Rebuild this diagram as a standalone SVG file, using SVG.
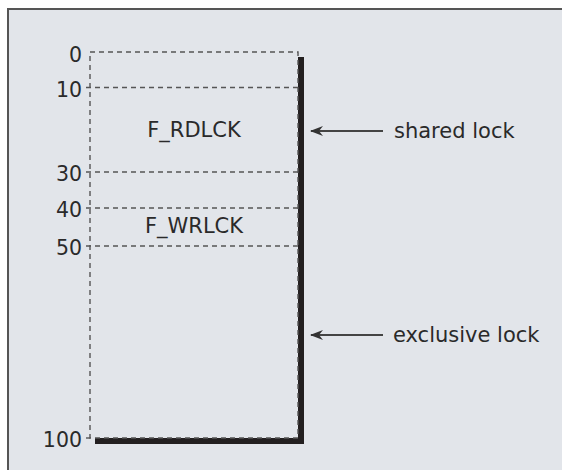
<svg xmlns="http://www.w3.org/2000/svg" width="562" height="470" viewBox="0 0 562 470">
<defs>
<style>
text{font-family:"DejaVu Sans","Liberation Sans",sans-serif;fill:#2a2a2a}
.num{font-size:20.5px;text-anchor:end}
.lbl{font-size:21px}
.mid{text-anchor:middle}
.dash{stroke:#555;stroke-width:1.4;stroke-dasharray:5 4;fill:none}
.arr{stroke:#444;stroke-width:2;fill:none}
</style>
<marker id="ah" viewBox="0 0 13 10" refX="12" refY="5" markerWidth="13" markerHeight="10" markerUnits="userSpaceOnUse" orient="auto">
<path d="M13,5 L0,0 L4,5 L0,10 Z" fill="#333"/>
</marker>
</defs>
<rect x="0" y="0" width="562" height="470" fill="#fff"/>
<rect x="8" y="9" width="570" height="480" fill="#e2e5ea" stroke="#555" stroke-width="2"/>
<g id="region">
<path d="M298,57 H304 V444 H95 V438 H298 Z" fill="#231f20"/>
<rect x="90" y="52" width="208" height="386" fill="#fff" class="dash"/>
<line class="dash" x1="86" y1="87.5" x2="298" y2="87.5"/>
<line class="dash" x1="86" y1="172" x2="298" y2="172"/>
<line class="dash" x1="86" y1="208" x2="298" y2="208"/>
<line class="dash" x1="86" y1="246" x2="298" y2="246"/>
<line class="dash" x1="86" y1="438" x2="90" y2="438"/>
<text class="lbl mid" x="194" y="137">F_RDLCK</text>
<text class="lbl mid" x="194" y="233">F_WRLCK</text>
</g>
<g id="scale">
<text class="num" x="82" y="62">0</text>
<text class="num" x="82" y="97">10</text>
<text class="num" x="82" y="181">30</text>
<text class="num" x="82" y="217">40</text>
<text class="num" x="82" y="255">50</text>
<text class="num" x="82" y="447">100</text>
</g>
<g id="connectors">
<line class="arr" x1="383" y1="131" x2="311" y2="131" marker-end="url(#ah)"/>
<line class="arr" x1="383" y1="335" x2="311" y2="335" marker-end="url(#ah)"/>
</g>
<g id="shared-lock"><text class="lbl" x="394" y="138">shared lock</text></g>
<g id="exclusive-lock"><text class="lbl" x="393" y="342">exclusive lock</text></g>
</svg>
